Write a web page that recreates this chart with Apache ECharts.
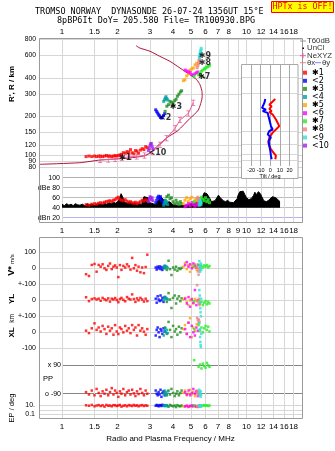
<!DOCTYPE html>
<html>
<head>
<meta charset="utf-8">
<script src="https://cdn.jsdelivr.net/npm/echarts@6/dist/echarts.min.js"></script>
<style>
html,body{margin:0;padding:0;background:#fff;}
#chart{width:335px;height:451px;}
</style>
</head>
<body>
<div id="chart"></div>
<script>
// axis ticks
var freqTicks = [1, 1.5, 2, 3, 4, 5, 6, 7, 8, 9, 10, 12, 14, 16, 18];
var freqLabels = [1, 1.5, 2, 3, 4, 5, 6, 7, 8, 10, 12, 14, 16, 18];
var rangeTicks = [80, 90, 100, 120, 150, 200, 300, 400, 600, 800];
var ampTicks = [20, 40, 60, 80, 100];
var ampNames = ['dBn 20', '40', '60', 'dBe 80', '100'];
var tiltTicks = [-20, -10, 0, 10, 20];

// echo classes: frequency (MHz), virtual range (km), amplitude (dB), V* (m/s), YL/XL (km), polarisation (deg), EP (deg)
var freq1 = [1.35,1.40,1.45,1.50,1.54,1.58,1.62,1.66,1.70,1.74,1.78,1.82,1.86,1.90,1.94,1.98,2.02,2.06,2.10,2.15,2.20,2.25,2.30,2.35,2.40,2.45,2.50,2.55,2.60,2.66,2.72,2.78,2.84,2.90];
var rng1 = [97,98,97,98,97,98,98,97,98,99,98,98,97,98,99,98,99,100,101,104,103,106,105,110,104,102,108,107,103,109,112,110,116,114];
var amp1 = [46,45,47,48,47,49,50,49,51,52,53,54,52,55,56,59,61,57,55,54,56,53,51,52,50,49,51,48,50,52,55,53,56,54];
var vel1 = [-37,-48,21,27,-21,21,10,25,0,-10,15,30,-5,10,18,5,-55,20,-10,15,5,25,12,-8,65,0,20,-15,10,-25,5,-30,8,85];
var yl1 = [19,-5,8,12,5,10,-3,15,6,0,12,-8,10,5,14,2,-12,8,15,3,-6,20,10,5,37,8,-10,12,0,15,5,-8,10,-5];
var xl1 = [10,-5,25,56,15,30,5,40,20,-10,35,10,25,-15,45,5,-11,30,20,0,40,10,25,-5,45,15,30,-20,45,10,25,4,-15,20];
var pol1 = [-80,-95,-70,-100,-60,-85,-105,-75,-90,-65,-100,-80,-55,-95,-70,-85,-110,-75,-90,-60,-100,-80,-70,-95,-65,-88,-105,-75,-92,-60,-85,-100,-70,-90];
var ep1 = [10,8,12,6,9,11,7,10,5,12,8,9,6,11,10,7,9,12,5,8,10,6,11,9,7,12,8,10,6,9,11,7,10,8];

var freq2 = [3.22,3.26,3.30,3.34,3.38,3.42,3.46,3.50,3.55,3.60];
var rng2 = [225,218,212,206,202,196,194,197,203,210];
var amp2 = [50,55,60,63,58,62,55,52,48,50];
var vel2 = [5,-8,10,0,12,-5,8,-10,3,15];
var yl2 = [10,-15,25,5,-5,30,0,15,-10,20];
var xl2 = [-20,15,30,0,-30,20,10,-10,25,5];
var pol2 = [-70,-90,-100,-80,-95,-65,-110,-85,-75,-100];
var ep2 = [8,12,9,6,11,10,7,13,9,8];

var freq3 = [3.62,3.70,3.78,3.85,3.92,4.00,4.08,4.15,4.22,4.30,4.38,4.45];
var rng3 = [219,240,247,262,258,254,265,272,287,298,310,317];
var amp3 = [55,62,65,58,60,52,48,55,50,46,52,48];
var vel3 = [0,-10,47,-5,-42,5,-8,10,-15,0,-5,3];
var yl3 = [20,-10,45,5,-48,15,30,-20,10,25,-5,12];
var xl3 = [30,-10,65,15,-30,40,5,20,-15,35,0,25];
var pol3 = [-80,-100,-70,-95,-60,-85,-105,-90,-75,-100,-85,-70];
var ep3 = [7,10,5,12,8,6,9,4,11,7,6,9];

var freq4 = [3.56,3.60,3.63,3.66,3.70,3.74];
var rng4 = [262,270,278,285,275,268];
var amp4 = [45,50,54,48,52,46];
var vel4 = [5,12,15,8,10,3];
var yl4 = [0,15,20,8,12,5];
var xl4 = [-20,10,25,0,15,-5];
var pol4 = [-90,-70,-100,-85,-95,-75];
var ep4 = [9,7,11,8,10,6];

var freq5 = [4.55,4.64,4.74,4.84,4.94,5.05,5.15,5.26,5.37];
var rng5 = [380,387,414,430,460,470,477,505,521];
var amp5 = [48,55,60,52,58,61,50,56,53];
var vel5 = [10,33,-5,20,-22,15,5,25,-10];
var yl5 = [5,14,-10,-30,0,10,-20,8,-5];
var xl5 = [20,45,-10,60,88,-30,30,10,50];
var pol5 = [-85,-70,-100,-90,-65,-95,-80,-105,-75];
var ep5 = [6,5,8,4,7,5,9,6,5];

var freq6 = [4.65,4.75,4.85,4.95,5.05,5.15,5.25,5.35,5.45];
var rng6 = [460,452,445,440,423,420,430,438,445];
var amp6 = [42,45,48,44,50,46,43,47,45];
var vel6 = [20,39,10,25,0,30,15,5,22];
var yl6 = [10,-20,20,-40,5,-15,64,-30,0];
var xl6 = [20,-10,60,-30,40,0,-20,30,10];
var pol6 = [-80,-95,-70,-100,-85,-60,-90,-75,-105];
var ep6 = [6,8,5,7,9,6,8,5,7];

var freq7 = [5.2,5.5,5.6,5.7,5.8,5.9,6.0,6.1,6.2,6.3];
var rng7 = [410,423,435,450,460,470,477,485,492,500];
var amp7 = [52,55,58,61,57,54,60,52,56,50];
var vel7 = [12,21,8,15,5,18,10,20,6,14];
var yl7 = [-5,0,-20,-10,-30,-15,-5,-25,-10,-20];
var xl7 = [20,45,10,30,0,25,40,15,35,5];
var pol7 = [122,80,95,70,100,85,75,105,90,80];
var ep7 = [9,8,10,7,9,11,8,10,7,9];

var freq8 = [5.40,5.45,5.50,5.52,5.56];
var rng8 = [480,500,520,545,565];
var amp8 = [58,61,55,51,57];
var vel8 = [5,-20,-40,0,-10];
var yl8 = [95,-5,-20,10,-30];
var xl8 = [90,75,60,80,65];
var pol8 = [-70,-90,-100,-80,-95];
var ep8 = [6,4,5,7,5];

var freq9 = [5.55,5.58,5.60,5.62,5.64,5.66,5.68];
var rng9 = [575,590,610,625,640,660,680];
var amp9 = [45,50,55,48,52,46,50];
var vel9 = [45,10,-22,20,0,30,-10];
var yl9 = [64,30,-10,-50,-75,-100,10];
var xl9 = [57,20,-30,-60,-80,-92,-10];
var pol9 = [-65,-80,-100,-90,-110,-75,-95];
var ep9 = [8,6,9,7,10,5,8];

var freq10 = [2.94,2.97,3.00,3.02,3.05,3.08,3.11];
var rng10 = [108,112,118,122,123,117,112];
var amp10 = [52,58,62,60,56,60,54];

// unclassified echoes
var unclFreq = [5.75,5.85,5.92,4.00,4.05,5.60,3.95];
var unclRng = [415,405,400,248,242,430,240];

// total amplitude trace
var ampFreq = [1.00,1.03,1.06,1.09,1.12,1.15,1.18,1.21,1.25,1.29,1.33,1.37,1.41,1.45,1.50,1.55,1.60,1.65,1.70,1.75,1.80,1.85,1.90,1.95,2.00,2.05,2.09,2.13,2.18,2.25,2.32,2.40,2.48,2.55,2.62,2.70,2.78,2.85,2.92,2.98,3.05,3.12,3.20,3.28,3.35,3.42,3.50,3.58,3.66,3.74,3.82,3.90,4.00,4.10,4.20,4.30,4.40,4.50,4.60,4.70,4.80,4.90,5.00,5.10,5.20,5.30,5.40,5.50,5.60,5.70,5.80,5.90,6.00,6.10,6.20,6.30,6.45,6.60,6.75,6.90,7.05,7.20,7.35,7.50,7.70,7.90,8.10,8.30,8.50,8.70,8.90,9.00,9.20,9.40,9.60,9.80,10.0,10.3,10.6,10.9,11.1,11.3,11.6,11.9,12.1,12.4,12.8,13.2,13.5,13.8,14.1,14.4,14.8,15.2];
var ampDb = [47,44,48,45,47,44,48,46,45,47,44,48,46,47,45,47,48,46,49,47,50,48,51,49,52,58,68,62,52,49,51,48,50,47,49,46,62,63,60,50,47,48,46,50,56,62,65,55,50,47,52,50,46,49,45,48,44,47,45,48,46,50,48,52,50,54,52,56,54,58,64,70,73,68,72,60,52,48,54,50,65,60,62,54,52,55,51,54,50,53,58,65,72,70,73,66,60,56,58,64,71,66,72,68,62,54,52,55,58,62,64,60,56,52];

// true height profile and NeXYZ points
var profFreq = [0.753,1.25,1.61,2.24,2.77,3.00,3.26,3.50,3.75,4.25,4.94,5.48,5.75,5.74,5.60,5.37,4.94,4.36,3.85,3.39,3.00,2.64,2.52];
var profH = [84.4,86.9,91.2,94.1,98,103,116,127,138,155,193,224,285,312,353,387,423,477,538,589,645,684,713];
var neFreq = [1.61,1.78,1.94,2.11,2.33,2.54,2.80,3.10,3.40,3.69,4.10,4.36,4.84,5.14];
var neH = [91.2,92,93,95,96.8,97,99,106,120,135,161.5,187,211,256];

// tilt inset
var tiltXH = [272,260,245,238,227,218,214,205,187,166,156,147.5,135,123,116,109,103,97,91];
var tiltX = [5.2,2.5,-1,1.4,-1,1.4,-1,2.5,5.9,9.4,5.9,2.5,-1,-2,-1,0.7,3.1,5.9,5.2];
var tiltYH = [272,253,231,224,218,211,187,166,156,152,143,135,127,116,106,97,91];
var tiltY = [-5.2,-6.2,-8.6,-4.5,-7.9,-2.7,-1,0.7,2.5,-1,-2.7,0.7,-1.7,-1,0,0.7,1.4];

// cluster tags
var tagText = ['\u27311', '<10', '<2', '\u27313', '\u27317', '\u27318', '\u27319'];
var tagFreq = [2.20, 3.29, 3.62, 4.14, 5.89, 5.95, 5.95];
var tagH = [95, 103, 194, 237, 406, 527, 592];

var echoes = [
    {name: '\u27311', color: '#ff0000', f: freq1, r: rng1, a: amp1, v: vel1, y: yl1, x: xl1, p: pol1, e: ep1},
    {name: '<2', color: '#0000ff', f: freq2, r: rng2, a: amp2, v: vel2, y: yl2, x: xl2, p: pol2, e: ep2},
    {name: '\u27313', color: '#1e8c1e', f: freq3, r: rng3, a: amp3, v: vel3, y: yl3, x: xl3, p: pol3, e: ep3},
    {name: '<4', color: '#00a0a0', f: freq4, r: rng4, a: amp4, v: vel4, y: yl4, x: xl4, p: pol4, e: ep4},
    {name: '\u27315', color: '#ffa500', f: freq5, r: rng5, a: amp5, v: vel5, y: yl5, x: xl5, p: pol5, e: ep5},
    {name: '<6', color: '#ff00ff', f: freq6, r: rng6, a: amp6, v: vel6, y: yl6, x: xl6, p: pol6, e: ep6},
    {name: '\u27317', color: '#22ee22', f: freq7, r: rng7, a: amp7, v: vel7, y: yl7, x: xl7, p: pol7, e: ep7},
    {name: '\u27318', color: '#f08080', f: freq8, r: rng8, a: amp8, v: vel8, y: yl8, x: xl8, p: pol8, e: ep8},
    {name: '<9', color: '#30e0d8', f: freq9, r: rng9, a: amp9, v: vel9, y: yl9, x: xl9, p: pol9, e: ep9},
    {name: '<10', color: '#a020f0', f: freq10, r: rng10, a: amp10}
];

var lg = Math.log10;
var XMIN = -0.1247, XMAX = 1.3008;
var FONT = 'Liberation Sans';
var GRID_C = '#d6d6d6';

function near(list, v) {
    for (var i = 0; i < list.length; i++) {
        if (Math.abs(list[i] - v) < 1e-6) return i;
    }
    return -1;
}
function fmtF(v) {
    var i = near(freqTicks.map(lg), v);
    return i < 0 ? '' : String(freqTicks[i]);
}

var grids = [
    {left: 39, top: 38, width: 263, height: 134},       // R'
    {left: 62, top: 172, width: 240, height: 50.7},     // amplitude
    {left: 242, top: 65, width: 56, height: 101},       // tilt inset
    {left: 39, top: 237.3, width: 263, height: 47},     // V*
    {left: 39, top: 284.3, width: 263, height: 32},     // YL
    {left: 39, top: 316.3, width: 263, height: 40},     // XL
    {left: 62, top: 356.3, width: 240, height: 44.5},   // PP
    {left: 39, top: 400.8, width: 263, height: 17.9}    // EP
];
grids.forEach(function (g) { g.outerBoundsMode = 'none'; g.containLabel = false; });

function xAx(gi, min, labels, pos, margin) {
    return {
        type: 'value', gridIndex: gi, min: min, max: XMAX, position: pos || 'bottom',
        axisLine: {show: false},
        axisTick: {show: false, customValues: freqTicks.map(lg)},
        splitLine: {show: true, lineStyle: {color: GRID_C, width: 1}},
        axisLabel: labels ? {customValues: labels.map(lg), formatter: fmtF, fontSize: 8, hideOverlap: false,
            showMinLabel: true, showMaxLabel: true,
            color: '#000', fontFamily: FONT, margin: margin} : {show: false}
    };
}

function yAx(gi, min, max, ticks, lblVals, lblTxt, opt) {
    opt = opt || {};
    return {
        type: 'value', gridIndex: gi, min: min, max: max, z: opt.z || 0, position: 'left',
        axisLine: {show: false},
        axisTick: {show: false, customValues: ticks},
        splitLine: {show: !opt.noLines, lineStyle: {color: opt.color || GRID_C, width: 1}},
        axisLabel: lblVals ? {customValues: lblVals, fontSize: opt.size || 7, color: '#000', fontFamily: FONT,
            margin: opt.margin || 3, hideOverlap: false, lineHeight: 6,
            showMinLabel: true, showMaxLabel: true,
            formatter: function (v) { var i = near(lblVals, v); return i < 0 ? '' : lblTxt[i]; }
        } : {show: false}
    };
}

var RMIN = 1.8664, RMAX = 2.9133;
var TMIN = 1.9054, TMAX = 2.7023;
var rLog = rangeTicks.map(lg);
// 90 km label sits on its own axis so that it is not dropped next to 80 and 100
var rLblA = [80, 100, 120, 150, 200, 300, 400, 600, 800];
var rLblB = [90];

var xAxes = [
    xAx(0, XMIN, freqLabels, 'top', 2),
    xAx(1, 0, freqTicks, 'bottom', 4),
    {
        type: 'value', gridIndex: 2, min: -29.5, max: 28.9, z: 3,
        axisLine: {show: false},
        axisTick: {show: false, customValues: tiltTicks},
        splitLine: {show: true, lineStyle: {color: '#a8a8a8'}},
        axisLabel: {customValues: tiltTicks, fontSize: 5.5, margin: 1, color: '#000', fontFamily: FONT,
            hideOverlap: false, showMinLabel: true, showMaxLabel: true},
        name: 'Tilt / deg', nameLocation: 'middle', nameGap: 6.5,
        nameTextStyle: {fontSize: 5.5, color: '#000', fontFamily: FONT}
    },
    xAx(3, XMIN, null),
    xAx(4, XMIN, null),
    xAx(5, XMIN, null),
    xAx(6, 0, null),
    xAx(7, XMIN, freqLabels, 'bottom', 4.5)
];
xAxes[7].name = 'Radio and Plasma Frequency / MHz';
xAxes[7].nameLocation = 'middle';
xAxes[7].nameGap = 16.5;
xAxes[7].nameTextStyle = {fontSize: 8, color: '#000', fontFamily: FONT};

var yAxes = [
    yAx(0, RMIN, RMAX, rLog, rLblA.map(lg), rLblA.map(String), {size: 6.8}),
    yAx(1, 10, 111.4, ampTicks, ampTicks, ampNames, {margin: 2, color: ['#b4b4f0', '#bdbdbd', '#bdbdbd', '#bdbdbd', '#b0b0b0']}),
    yAx(2, TMIN, TMAX, rLog.filter(function (v) { return v > TMIN && v < TMAX; }), null, null, {z: 3}),
    yAx(3, -100, 193.75, [100, 0], [100, 0], ['100', '0']),
    yAx(4, -100, 100, [100, 0], [100, 0], ['+-100', '0']),
    yAx(5, -150, 100, [100, 0, -100], [100, 0, -100], ['+-100', '0', '-100']),
    yAx(6, -135, 147, [90, -90], [90, -90], ['x 90', 'o -90'], {color: '#858585', margin: 1}),
    yAx(7, -1.98, 2, [1, 0, -1], [1, -1], ['10.', '0.1'], {margin: 4}),
    yAx(0, RMIN, RMAX, rLblB.map(lg), rLblB.map(lg), rLblB.map(String), {size: 6.8, noLines: true})
];

function sc(name, color, gi, pts, size) {
    return {type: 'scatter', name: name, xAxisIndex: gi, yAxisIndex: gi, data: pts,
        symbol: 'rect', symbolSize: size, itemStyle: {color: color}, z: 3, silent: true};
}

var series = [];

// amplitude trace
series.push({
    type: 'line', xAxisIndex: 1, yAxisIndex: 1, symbol: 'none', z: 2, silent: true,
    data: ampFreq.map(function (f, i) { return [lg(f), ampDb[i]]; }),
    lineStyle: {color: '#000', width: 1},
    areaStyle: {color: '#000', opacity: 1, origin: 40}
});

// profile
series.push({
    type: 'line', xAxisIndex: 0, yAxisIndex: 0, symbol: 'none', z: 2, smooth: 0.2, silent: true,
    data: profFreq.map(function (f, i) { return [lg(f), lg(profH[i])]; }),
    lineStyle: {color: '#b0143c', width: 1}
});
series.push({
    type: 'line', xAxisIndex: 0, yAxisIndex: 0, z: 2, silent: true,
    symbol: 'path://M0,0H5V1H3V7H5V8H0V7H2V1H0Z', symbolSize: [4, 6], showSymbol: true,
    data: neFreq.map(function (f, i) { return [lg(f), lg(neH[i])]; }),
    lineStyle: {color: '#e8609a', width: 1},
    itemStyle: {color: '#e8609a'}
});

echoes.forEach(function (e) {
    var lf = e.f.map(lg);
    series.push(sc(e.name, e.color, 0, lf.map(function (x, i) { return [x, lg(e.r[i])]; }), 3));
    series.push(sc(e.name, e.color, 1, lf.map(function (x, i) { return [x, e.a[i]]; }), 3));
    if (!e.v) return;
    series.push(sc(e.name, e.color, 3, lf.map(function (x, i) { return [x, e.v[i]]; }), 2.5));
    series.push(sc(e.name, e.color, 4, lf.map(function (x, i) { return [x, e.y[i]]; }), 2.5));
    series.push(sc(e.name, e.color, 5, lf.map(function (x, i) { return [x, e.x[i]]; }), 2.5));
    series.push(sc(e.name, e.color, 6, lf.map(function (x, i) { return [x, e.p[i]]; }), 2.5));
    series.push(sc(e.name, e.color, 7, lf.map(function (x, i) { return [x, lg(e.e[i])]; }), 2.5));
});

series.push(sc('UnCl', '#000', 0, unclFreq.map(function (f, i) { return [lg(f), lg(unclRng[i])]; }), 1.5));

// cluster tags
series.push({
    type: 'scatter', xAxisIndex: 0, yAxisIndex: 0, symbolSize: 1, z: 4, silent: true,
    itemStyle: {color: 'rgba(0,0,0,0)'},
    data: tagText.map(function (t, i) { return {name: t, value: [lg(tagFreq[i]), lg(tagH[i])]}; }),
    label: {show: true, position: 'inside', formatter: '{b}', color: '#000', fontSize: 8,
        fontWeight: 'bold', fontFamily: 'DejaVu Sans'}
});

// tilt
series.push({
    type: 'line', xAxisIndex: 2, yAxisIndex: 2, symbol: 'none', z: 4, silent: true,
    data: tiltX.map(function (t, i) { return [t, lg(tiltXH[i])]; }),
    lineStyle: {color: '#ff0000', width: 2}
});
series.push({
    type: 'line', xAxisIndex: 2, yAxisIndex: 2, symbol: 'none', z: 4, silent: true,
    data: tiltY.map(function (t, i) { return [t, lg(tiltYH[i])]; }),
    lineStyle: {color: '#0000ff', width: 2}
});

function txt(x, y, s, o) {
    o = o || {};
    return {type: 'text', x: x, y: y, z: 12, rotation: o.rot || 0, silent: true,
        style: {text: s, fill: o.color || '#000', fontSize: o.size || 8, fontFamily: o.font || FONT,
            fontWeight: o.weight || 'normal', align: o.align || 'left', verticalAlign: 'middle', rich: o.rich}};
}
function ln(x1, y1, x2, y2, c) {
    return {type: 'line', z: 12, silent: true, shape: {x1: x1, y1: y1, x2: x2, y2: y2}, style: {stroke: c, lineWidth: 1}};
}
var MONO = 'DejaVu Sans Mono';
var R90 = Math.PI / 2;

var graphics = [
    // frames
    {type: 'rect', z: 10, silent: true, shape: {x: 39.5, y: 38.5, width: 263, height: 184}, style: {fill: null, stroke: '#9a9a9a', lineWidth: 1}},
    {type: 'rect', z: 10, silent: true, shape: {x: 39.5, y: 237.5, width: 263, height: 181}, style: {fill: null, stroke: '#9a9a9a', lineWidth: 1}},
    // tilt inset background
    {type: 'rect', z: 1, silent: true, shape: {x: 241.5, y: 64.5, width: 56.5, height: 114}, style: {fill: '#fff', stroke: '#a8a8a8', lineWidth: 1}},
    // title
    txt(35, 12.3, 'TROMSO NORWAY  DYNASONDE 26-07-24 1356UT 15\u00b0E', {font: MONO, size: 8.45}),
    txt(57, 20.7, '8pBP6It DoY= 205.580 File= TR100930.BPG', {font: MONO, size: 8.45}),
    {type: 'rect', z: 11, silent: true, shape: {x: 271.5, y: 1.5, width: 62, height: 11}, style: {fill: '#ffff00', stroke: '#ff0000', lineWidth: 1}},
    txt(302.5, 7.2, 'HPTx is OFF!', {font: MONO, size: 8.3, color: '#ff0000', align: 'center'}),
    // axis names
    txt(12, 84, "R', R / km", {rot: R90, align: 'center', weight: 'bold', size: 8}),
    txt(12, 265, '{a|V*} {b|m/s}', {rot: R90, align: 'center', rich: {a: {fontSize: 9, fontWeight: 'bold', fontFamily: FONT}, b: {fontSize: 6, fontFamily: FONT}}}),
    txt(12, 299, 'YL', {rot: R90, align: 'center', weight: 'bold', size: 8}),
    txt(12, 318.5, 'km', {rot: R90, align: 'center', size: 6.5}),
    txt(12, 332.5, 'XL', {rot: R90, align: 'center', weight: 'bold', size: 8}),
    txt(12, 408, 'EP / deg', {rot: R90, align: 'center', size: 7.5}),
    txt(43, 378.5, 'PP', {size: 7.5}),
    // legend head
    ln(300, 41, 306, 41, '#9a9a9a'),
    txt(307, 41, 'T60dB', {color: '#333', size: 7.8}),
    {type: 'rect', z: 12, silent: true, shape: {x: 302.5, y: 47.5, width: 1.5, height: 1.5}, style: {fill: '#000'}},
    txt(307, 48.3, 'UnCl', {color: '#333', size: 7.8}),
    ln(300, 55.7, 306, 55.7, '#e8609a'),
    ln(303, 53.2, 303, 58.2, '#e8609a'),
    txt(307, 55.7, 'NeXYZ', {color: '#333', size: 7.8}),
    ln(300, 62.7, 306, 62.7, '#f08080'),
    txt(307, 62.7, '\u03b8x', {color: '#333', size: 7.8}),
    ln(315, 62.7, 321, 62.7, '#8080ff'),
    txt(322, 62.7, '\u03b8y', {color: '#333', size: 7.8})
];

var chart = echarts.init(document.getElementById('chart'), null, {renderer: 'canvas'});
chart.setOption({
    backgroundColor: '#fff',
    animation: false,
    grid: grids,
    xAxis: xAxes,
    yAxis: yAxes,
    legend: {
        left: 303, top: 68.7, orient: 'vertical', padding: 0,
        itemWidth: 4, itemHeight: 4, itemGap: 0.1, icon: 'rect', selectedMode: false,
        textStyle: {fontSize: 8, lineHeight: 8, color: '#000', fontFamily: 'DejaVu Sans'},
        data: echoes.map(function (e) { return e.name; })
    },
    graphic: {elements: graphics},
    series: series
});
</script>
</body>
</html>
